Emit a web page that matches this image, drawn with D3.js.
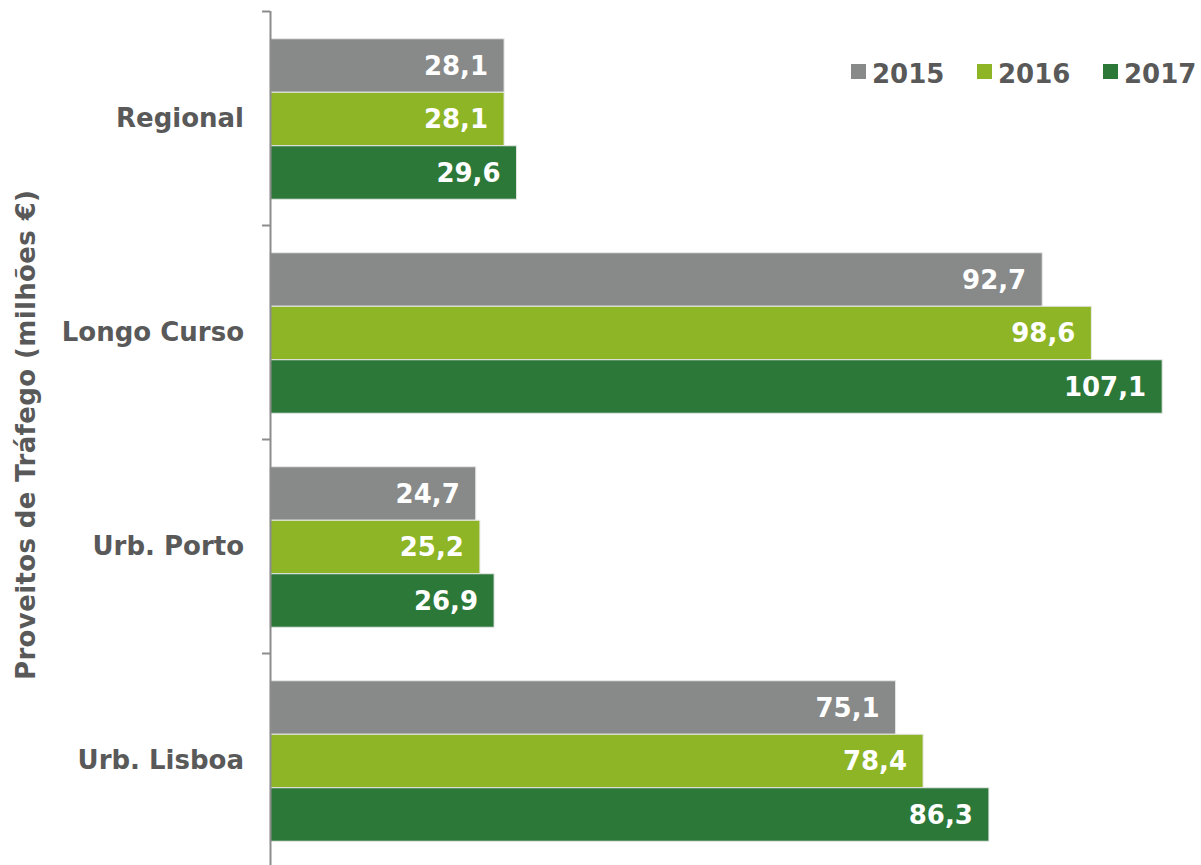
<!DOCTYPE html>
<html>
<head>
<meta charset="utf-8">
<script src="https://cdn.jsdelivr.net/npm/d3@7"></script>
<style>
  body { margin: 0; background: #fff; }
  text { font-family: "DejaVu Sans", Verdana, sans-serif; font-weight: bold; }
</style>
</head>
<body>
<svg id="chart"></svg>
<script>
var categories = ['Regional', 'Longo Curso', 'Urb. Porto', 'Urb. Lisboa'];
var years = ['2015', '2016', '2017'];
var v2015 = [28.1, 92.7, 24.7, 75.1];
var v2016 = [28.1, 98.6, 25.2, 78.4];
var v2017 = [29.6, 107.1, 26.9, 86.3];
var colors = ['#878a89', '#8db526', '#2c7838'];

var series = [v2015, v2016, v2017];

var width = 1201, height = 865;
var svg = d3.select('#chart')
	.attr('width', width)
	.attr('height', height);

var x = d3.scaleLinear()
	.domain([0, 112])
	.range([270, 1203]);

var y = d3.scaleBand()
	.domain(categories)
	.range([12, 868]);

var yInner = d3.scaleBand()
	.domain(years)
	.range([0, y.bandwidth()])
	.paddingOuter(0.5);

var fmt = function(d) { return d.toFixed(1).replace('.', ','); };

// bars
var groups = svg.selectAll('g.cat')
	.data(categories)
	.enter().append('g')
	.attr('class', 'cat')
	.attr('transform', function(d) { return 'translate(0,' + y(d) + ')'; });

groups.each(function(c, ci) {
	var g = d3.select(this);
	years.forEach(function(yr, si) {
		var val = series[si][ci];
		g.append('rect')
			.attr('x', x(0))
			.attr('y', yInner(yr))
			.attr('width', x(val) - x(0))
			.attr('height', yInner.bandwidth())
			.attr('fill', colors[si])
			.attr('stroke', '#e8e8e8')
			.attr('stroke-width', 1);
		g.append('text')
			.attr('x', x(val) - 16)
			.attr('y', yInner(yr) + yInner.bandwidth() / 2)
			.attr('dy', '0.36em')
			.attr('text-anchor', 'end')
			.attr('fill', '#fff')
			.style('font-size', '26px')
			.text(fmt(val));
	});
});

// category axis
var axisG = svg.append('g')
	.attr('transform', 'translate(270,0)')
	.call(d3.axisLeft(y).tickSize(0).tickPadding(26));
axisG.select('.domain').remove();
axisG.selectAll('text')
	.attr('fill', '#595959')
	.style('font-size', '26px')
	.style('font-family', '"DejaVu Sans", Verdana, sans-serif')
	.style('font-weight', 'bold');

var bounds = categories.map(function(c) { return y(c); }).concat([y.range()[1]]);
svg.append('line')
	.attr('x1', 270.5).attr('x2', 270.5)
	.attr('y1', 11).attr('y2', 865)
	.attr('stroke', '#8c8c8c')
	.attr('stroke-width', 2);
svg.selectAll('line.tick')
	.data(bounds)
	.enter().append('line')
	.attr('class', 'tick')
	.attr('x1', 262).attr('x2', 270)
	.attr('y1', function(d) { return Math.round(d) - 0.5; })
	.attr('y2', function(d) { return Math.round(d) - 0.5; })
	.attr('stroke', '#8c8c8c')
	.attr('stroke-width', 2);

// y title
svg.append('text')
	.attr('transform', 'translate(35,' + 435 + ') rotate(-90)')
	.attr('text-anchor', 'middle')
	.attr('fill', '#595959')
	.style('font-size', '26px')
	.attr('textLength', 490)
	.text('Proveitos de Tráfego (milhões €)');

// legend
var legend = svg.selectAll('g.leg')
	.data(years)
	.enter().append('g')
	.attr('class', 'leg')
	.attr('transform', function(d, i) { return 'translate(' + (851 + i * 126) + ',64)'; });
legend.append('rect')
	.attr('width', 15).attr('height', 15)
	.attr('fill', function(d, i) { return colors[i]; });
legend.append('text')
	.attr('x', 21)
	.attr('y', 19)
	.attr('fill', '#595959')
	.style('font-size', '26px')
	.text(function(d) { return d; });
</script>
</body>
</html>
